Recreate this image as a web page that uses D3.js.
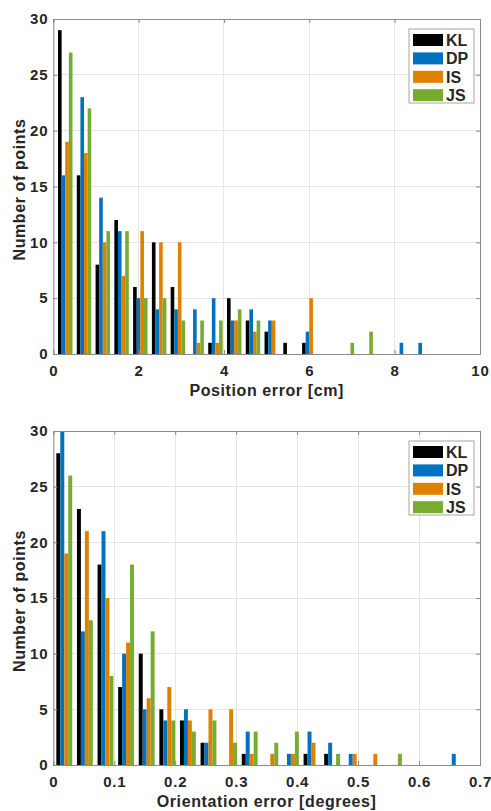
<!DOCTYPE html>
<html>
<head>
<meta charset="utf-8">
<script src="https://cdn.jsdelivr.net/npm/d3@7"></script>
<style>
  html, body { margin: 0; padding: 0; background: #fff; }
  svg text { font-family: "Liberation Sans", Arial, Helvetica, sans-serif; font-weight: bold; fill: #262626; }
</style>
</head>
<body>
<svg id="chart" width="491" height="811"></svg>
<script>
// ---------- DATA ----------
const seriesNames = ["KL", "DP", "IS", "JS"];
const seriesColors = ["#000000", "#0072BD", "#E08000", "#77AC30"];

// Top histogram: position error [cm], bin centers
const posCenters = [0.28, 0.72, 1.16, 1.60, 2.04, 2.48, 2.92, 3.36, 3.80, 4.24,
                    4.68, 5.12, 5.56, 6.00, 6.44, 6.88, 7.32, 7.76, 8.20, 8.64];
const posKL = [29, 16, 8, 12, 6, 10, 6, 0, 1, 5, 3, 2, 1, 1, 0, 0, 0, 0, 0, 0];
const posDP = [16, 23, 14, 11, 5, 4, 4, 4, 5, 3, 4, 3, 0, 2, 0, 0, 0, 0, 1, 1];
const posIS = [19, 18, 10, 7, 11, 10, 10, 1, 1, 3, 2, 3, 0, 5, 0, 0, 0, 0, 0, 0];
const posJS = [27, 22, 11, 11, 5, 5, 3, 3, 3, 4, 3, 0, 0, 0, 0, 1, 2, 0, 0, 0];
const posXTicks = [0, 2, 4, 6, 8, 10];

// Bottom histogram: orientation error [degrees], bin centers
const oriCenters = [0.018, 0.0518, 0.0856, 0.1194, 0.1532, 0.187, 0.2208, 0.2546, 0.2884, 0.3222,
                    0.356, 0.3898, 0.4236, 0.4574, 0.4912, 0.525, 0.5588, 0.5926, 0.6264, 0.6602];
const oriKL = [28, 23, 18, 7, 10, 5, 4, 2, 0, 1, 0, 0, 1, 1, 0, 0, 0, 0, 0, 0];
const oriDP = [30, 12, 21, 10, 5, 4, 5, 2, 0, 3, 0, 1, 3, 2, 1, 0, 0, 0, 0, 1];
const oriIS = [19, 21, 15, 11, 6, 7, 4, 5, 5, 1, 1, 1, 2, 0, 1, 1, 0, 0, 0, 0];
const oriJS = [26, 13, 8, 18, 12, 4, 3, 4, 2, 3, 2, 3, 0, 1, 0, 0, 1, 0, 0, 0];
const oriXTicks = [0, 0.1, 0.2, 0.3, 0.4, 0.5, 0.6, 0.7];

const yTicks = [0, 5, 10, 15, 20, 25, 30];

// ---------- DRAW ----------
const svg = d3.select("#chart");

function drawPanel(cfg) {
  const { left, right, top, bottom, xDomain, centers, series, xTicks, xLabel, xFmt, xLabelY, tickLabelY } = cfg;
  const g = svg.append("g");
  const x = d3.scaleLinear().domain(xDomain).range([left, right]);
  const y = d3.scaleLinear().domain([0, 30]).range([bottom, top]);

  // grid
  g.append("g").selectAll("line").data(xTicks).join("line")
    .attr("x1", d => x(d)).attr("x2", d => x(d)).attr("y1", top).attr("y2", bottom)
    .attr("stroke", "#e6e6e6").attr("stroke-width", 1).attr("shape-rendering", "crispEdges");
  g.append("g").selectAll("line").data(yTicks).join("line")
    .attr("x1", left).attr("x2", right).attr("y1", d => y(d)).attr("y2", d => y(d))
    .attr("stroke", "#e6e6e6").attr("stroke-width", 1).attr("shape-rendering", "crispEdges");

  // bars
  const spacing = x(centers[1]) - x(centers[0]);
  const groupW = spacing * 0.77;
  const bw = groupW / series.length;
  series.forEach((vals, si) => {
    g.append("g").selectAll("rect").data(vals.map((v, i) => ({ v, c: centers[i] }))).join("rect")
      .attr("x", d => x(d.c) - groupW / 2 + si * bw)
      .attr("width", bw)
      .attr("y", d => y(d.v))
      .attr("height", d => y(0) - y(d.v))
      .attr("fill", seriesColors[si]);
  });

  // axes (inward ticks) on all four sides
  const tl = 4;
  const xAxisB = d3.axisBottom(x).tickValues(xTicks).tickSize(-tl).tickFormat(xFmt);
  const xAxisT = d3.axisTop(x).tickValues(xTicks).tickSize(-tl).tickFormat("");
  const yAxisL = d3.axisLeft(y).tickValues(yTicks).tickSize(-tl).tickFormat(d3.format("d"));
  const yAxisR = d3.axisRight(y).tickValues(yTicks).tickSize(-tl).tickFormat("");

  const styleAxis = (sel) => {
    sel.select(".domain").attr("stroke", "#8a8a8a");
    sel.selectAll(".tick line").attr("stroke", "#8a8a8a");
    sel.selectAll(".tick text").attr("font-size", 15).attr("font-weight", "bold")
      .attr("letter-spacing", 0.8)
      .attr("fill", "#262626").attr("font-family", '"Liberation Sans", Arial, sans-serif');
  };
  const ab = g.append("g").attr("transform", `translate(0,${bottom})`).call(xAxisB).call(styleAxis);
  ab.selectAll(".tick text").attr("dy", null).attr("y", tickLabelY - bottom);
  g.append("g").attr("transform", `translate(0,${top})`).call(xAxisT).call(styleAxis);
  const al = g.append("g").attr("transform", `translate(${left},0)`).call(yAxisL).call(styleAxis);
  al.selectAll(".tick text").attr("x", -5);
  g.append("g").attr("transform", `translate(${right},0)`).call(yAxisR).call(styleAxis);

  // axis labels
  g.append("text").attr("x", (left + right) / 2).attr("y", xLabelY)
    .attr("text-anchor", "middle").attr("font-size", 16).attr("letter-spacing", 0.6).text(xLabel);
  g.append("text")
    .attr("transform", `translate(25,${(top + bottom) / 2 + 3}) rotate(-90)`)
    .attr("text-anchor", "middle").attr("font-size", 16).attr("letter-spacing", 0.6).text("Number of points");

  // legend
  const lx = 409, ly = top + 10, lw = 65, lh = 74;
  const lg = g.append("g");
  lg.append("rect").attr("x", lx).attr("y", ly).attr("width", lw).attr("height", lh)
    .attr("fill", "#fff").attr("stroke", "#a6a6a6").attr("stroke-width", 1);
  seriesNames.forEach((name, i) => {
    const cy = ly + 11 + i * 18.4;
    lg.append("rect").attr("x", lx + 4).attr("y", cy - 6).attr("width", 30).attr("height", 12)
      .attr("fill", seriesColors[i]);
    lg.append("text").attr("x", lx + 37).attr("y", cy + 6).attr("font-size", 16).text(name);
  });
}

drawPanel({
  left: 53.3, right: 480, top: 19, bottom: 354,
  xDomain: [0, 10], centers: posCenters,
  series: [posKL, posDP, posIS, posJS],
  xTicks: posXTicks, xFmt: d3.format("d"),
  xLabel: "Position error [cm]", xLabelY: 396, tickLabelY: 376
});

drawPanel({
  left: 53.3, right: 480, top: 431, bottom: 765,
  xDomain: [0, 0.7], centers: oriCenters,
  series: [oriKL, oriDP, oriIS, oriJS],
  xTicks: oriXTicks, xFmt: d => d === 0 ? "0" : d3.format(".1f")(d),
  xLabel: "Orientation error [degrees]", xLabelY: 807, tickLabelY: 787
});
</script>
</body>
</html>
